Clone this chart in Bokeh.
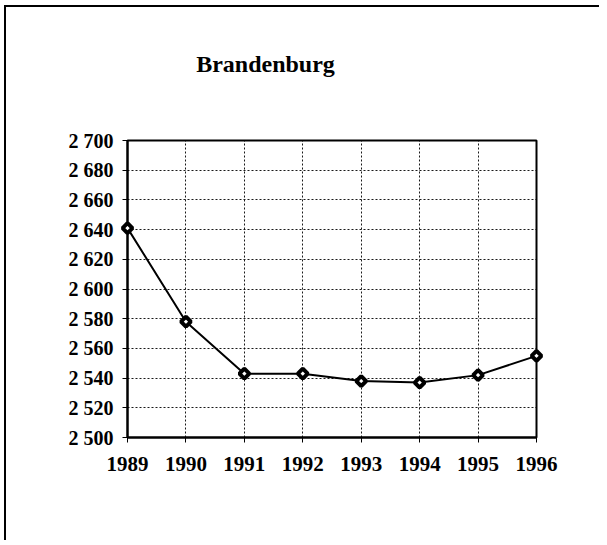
from bokeh.plotting import figure
from bokeh.models import FixedTicker, Range1d
from bokeh.core.properties import value
from bokeh.embed import file_html
from bokeh.resources import INLINE
import math

title_text = "Brandenburg"
years = [1989, 1990, 1991, 1992, 1993, 1994, 1995, 1996]
values = [2641, 2578, 2543, 2543, 2538, 2537, 2542, 2555]
y_ticks = [2500, 2520, 2540, 2560, 2580, 2600, 2620, 2640, 2660, 2680, 2700]
y_tick_labels = ["2 500", "2 520", "2 540", "2 560", "2 580", "2 600",
                 "2 620", "2 640", "2 660", "2 680", "2 700"]

FONT = "Liberation Serif"

# layout (pixels)
W, H = 595, 535
B_LEFT, B_RIGHT, B_TOP, B_BOTTOM = 121, 65, 133, 105
X0, X1, Y0, Y1 = years[0], years[-1], y_ticks[0], y_ticks[-1]

p = figure(width=W, height=H, output_backend="svg", toolbar_location=None,
           x_range=Range1d(X0, X1), y_range=Range1d(Y0, Y1),
           min_border_left=B_LEFT, min_border_right=B_RIGHT,
           min_border_top=B_TOP, min_border_bottom=B_BOTTOM)
p.styles = {"border-left": "2px solid black", "border-top": "2px solid black",
            "margin-left": "4px", "margin-top": "5px"}

p.outline_line_color = "black"
p.outline_line_width = 2

for ax in (p.xaxis[0], p.yaxis[0]):
    ax.axis_line_color = "black"
    ax.axis_line_width = 2
    ax.major_tick_line_color = "black"
    ax.major_tick_line_width = 1
    ax.major_tick_out = 5
    ax.major_tick_in = 0
    ax.minor_tick_line_color = None
    ax.major_label_text_font = FONT
    ax.major_label_text_font_style = "bold"
    ax.major_label_text_color = "black"

p.xaxis.ticker = FixedTicker(ticks=years)
p.xaxis.major_label_text_font_size = "21px"
p.xaxis.major_label_standoff = 14
p.yaxis.ticker = FixedTicker(ticks=y_ticks)
p.yaxis.major_label_overrides = {t: l for t, l in zip(y_ticks, y_tick_labels)}
p.yaxis.major_label_text_font_size = "20px"
p.yaxis.major_label_standoff = 9

for g in (p.xgrid[0], p.ygrid[0]):
    g.grid_line_color = "black"
    g.grid_line_dash = "2 2"
    g.grid_line_width = 1
    g.grid_line_alpha = 0.9

p.line(years, values, line_color="black", line_width=2)
r = p.scatter(years, values, marker="square", angle=math.pi / 4, size=7,
              fill_color="white", line_color="black", line_width=4)
r.level = "overlay"

# chart title: converted from its pixel place above the frame into data units
frame_w = W - B_LEFT - B_RIGHT
frame_h = H - B_TOP - B_BOTTOM
title_dx_px = 138      # title centre, right of the frame's left edge
title_dy_px = 77       # title baseline, above the frame's top edge
tx = X0 + title_dx_px * (X1 - X0) / frame_w
ty = Y1 + title_dy_px * (Y1 - Y0) / frame_h
t = p.text(x=[tx], y=[ty], text=[title_text], text_font=value(FONT),
           text_font_style="bold", text_font_size="24px", text_align="center",
           text_baseline="alphabetic", text_color="black")
t.level = "overlay"

open("out.html", "w").write(file_html(p, INLINE))
